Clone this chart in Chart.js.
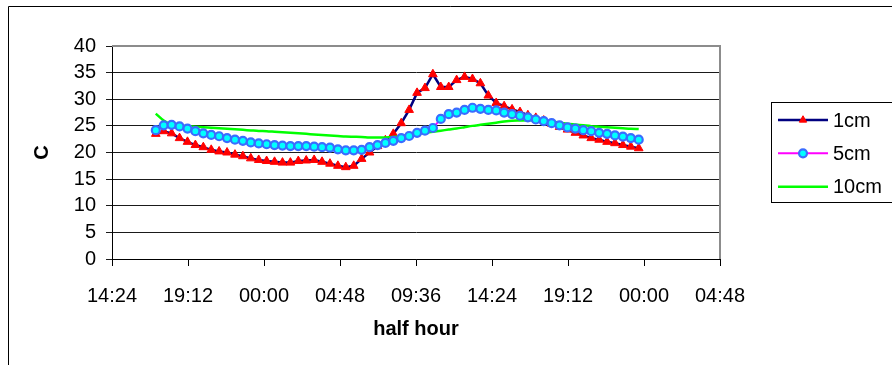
<!DOCTYPE html>
<html>
<head>
<meta charset="utf-8">
<script src="https://cdn.jsdelivr.net/npm/chart.js@4/dist/chart.umd.min.js"></script>
<style>
  html, body { margin: 0; padding: 0; background: #ffffff; }
  #wrap { width: 892px; height: 365px; position: relative; }
</style>
</head>
<body>
<div id="wrap"><canvas id="c" width="892" height="365"></canvas></div>
<script>
// Sample times, minutes after midnight of the first day (half-hourly readings)
const minutes = [1030,1060,1090,1120,1150,1180,1210,1240,1270,1300,1330,1360,1390,1420,1450,1480,
  1510,1540,1570,1600,1630,1660,1690,1720,1750,1780,1810,1840,1870,1900,1930,1960,1990,2020,2050,
  2080,2110,2140,2170,2200,2230,2260,2290,2320,2350,2380,2410,2440,2470,2500,2530,2560,2590,2620,
  2650,2680,2710,2740,2770,2800,2830,2860];

// Temperature (C) at 1 cm depth
const temp1cm = [23.5,24.0,23.6,22.7,22.0,21.4,21.0,20.5,20.2,20.0,19.6,19.3,18.9,18.6,18.4,18.25,
  18.1,18.1,18.4,18.5,18.6,18.25,17.9,17.5,17.25,17.5,18.8,20.0,21.2,22.3,23.5,25.5,28.0,31.2,32.1,
  34.7,32.3,32.3,33.6,34.2,33.8,33.0,30.7,29.3,28.7,28.1,27.6,27.0,26.5,26.0,25.4,24.8,24.3,23.7,
  23.2,22.7,22.4,22.0,21.75,21.4,21.1,20.8];

// Temperature (C) at 5 cm depth
const temp5cm = [24.2,25.1,25.2,24.9,24.5,24.0,23.6,23.3,23.05,22.7,22.4,22.2,21.9,21.7,21.55,21.4,
  21.3,21.2,21.2,21.2,21.1,21.0,20.9,20.6,20.4,20.4,20.5,21.0,21.4,21.8,22.2,22.7,23.1,23.7,24.1,
  24.6,26.3,27.2,27.5,28.0,28.4,28.2,28.0,27.9,27.5,27.2,26.9,26.6,26.2,25.9,25.5,25.1,24.7,24.5,
  24.2,24.0,23.7,23.5,23.2,23.0,22.7,22.4];

// Temperature (C) at 10 cm depth
const temp10cm = [27.3,26.0,25.2,25.05,24.95,24.85,24.75,24.65,24.55,24.45,24.35,24.25,24.15,24.05,
  24.0,23.9,23.8,23.7,23.6,23.5,23.4,23.3,23.2,23.1,23.0,22.95,22.9,22.8,22.8,22.8,22.9,23.1,23.3,
  23.5,23.7,23.9,24.1,24.3,24.5,24.75,25.0,25.2,25.4,25.6,25.8,25.95,26.0,26.05,26.05,25.95,25.8,
  25.6,25.4,25.25,25.1,24.95,24.85,24.75,24.65,24.55,24.45,24.4];

const seriesNames = ['1cm', '5cm', '10cm'];

// X axis tick positions (minutes) and their labels
const tickMinutes = [864, 1152, 1440, 1728, 2016, 2304, 2592, 2880, 3168];
const tickLabels = ['14:24', '19:12', '00:00', '04:48', '09:36', '14:24', '19:12', '00:00', '04:48'];

const FONT = '"Liberation Sans", Arial, sans-serif';

function pts(vals) {
  return vals.map((v, i) => ({ x: minutes[i], y: v }));
}

const ds1 = {
  label: seriesNames[0], data: pts(temp1cm),
  borderColor: '#000080', borderWidth: 2.5, tension: 0,
  pointStyle: 'triangle', pointRadius: 5, pointBackgroundColor: '#ff0000',
  pointBorderColor: '#ff0000', pointBorderWidth: 1, order: 3
};
const ds2 = {
  label: seriesNames[1], data: pts(temp5cm),
  borderColor: '#ff00ff', borderWidth: 2, tension: 0,
  pointStyle: 'circle', pointRadius: 4, pointBackgroundColor: '#00ffff',
  pointBorderColor: '#3a6cff', pointBorderWidth: 2.2, order: 1
};
const ds3 = {
  label: seriesNames[2], data: pts(temp10cm),
  borderColor: '#00ff00', borderWidth: 2.5, tension: 0.3,
  pointRadius: 0, order: 2
};

// Gray plot-area frame on top and right, outer chart frame, and legend box
const framePlugin = {
  id: 'frames',
  beforeDatasetsDraw(chart) {
    const { ctx, chartArea: a } = chart;
    ctx.save();
    ctx.strokeStyle = '#8c8c8c';
    ctx.lineWidth = 2;
    ctx.beginPath();
    ctx.moveTo(a.left, a.top);
    ctx.lineTo(a.right, a.top);
    ctx.lineTo(a.right, a.bottom);
    ctx.stroke();
    ctx.restore();
  },
  afterDraw(chart) {
    const { ctx } = chart;
    ctx.save();
    // outer chart border
    ctx.strokeStyle = '#000000';
    ctx.lineWidth = 1;
    ctx.beginPath();
    ctx.moveTo(8.5, 366);
    ctx.lineTo(8.5, 6.5);
    ctx.lineTo(893, 6.5);
    ctx.stroke();

    // legend
    ctx.fillStyle = '#ffffff';
    ctx.fillRect(771.5, 102.5, 130, 100);
    ctx.strokeRect(771.5, 102.5, 130, 100);
    const rows = [120, 153.3, 186.7];
    const sets = [ds1, ds2, ds3];
    sets.forEach((d, i) => {
      const y = rows[i];
      ctx.strokeStyle = d.borderColor;
      ctx.lineWidth = d.borderWidth;
      ctx.beginPath();
      ctx.moveTo(778, y);
      ctx.lineTo(828, y);
      ctx.stroke();
      if (d.pointRadius > 0) {
        ctx.fillStyle = d.pointBackgroundColor;
        ctx.strokeStyle = d.pointBorderColor;
        ctx.lineWidth = d.pointBorderWidth;
        ctx.beginPath();
        if (d.pointStyle === 'circle') {
          ctx.arc(803, y, d.pointRadius, 0, Math.PI * 2);
        } else {
          const r = d.pointRadius * 0.85;
          ctx.moveTo(803, y - r);
          ctx.lineTo(803 + r * Math.sin(2 * Math.PI / 3), y - r * Math.cos(2 * Math.PI / 3));
          ctx.lineTo(803 + r * Math.sin(4 * Math.PI / 3), y - r * Math.cos(4 * Math.PI / 3));
          ctx.closePath();
        }
        ctx.fill();
        ctx.stroke();
      }
      ctx.fillStyle = '#000000';
      ctx.font = '20px ' + FONT;
      ctx.textAlign = 'left';
      ctx.textBaseline = 'middle';
      ctx.fillText(d.label, 833, y + 1);
    });
    ctx.restore();
  }
};

new Chart(document.getElementById('c'), {
  type: 'line',
  data: { datasets: [ds1, ds2, ds3] },
  options: {
    responsive: false,
    animation: false,
    layout: { padding: { top: 46, right: 172, left: 0, bottom: 0 } },
    plugins: { legend: { display: false }, tooltip: { enabled: false } },
    scales: {
      x: {
        type: 'linear',
        min: tickMinutes[0], max: tickMinutes[tickMinutes.length - 1],
        afterBuildTicks(scale) { scale.ticks = tickMinutes.map(v => ({ value: v })); },
        afterFit(scale) { scale.height = 106; },
        ticks: {
          autoSkip: false, maxRotation: 0, padding: 18, color: '#000000',
          font: { family: FONT, size: 20 },
          callback(value, index) { return tickLabels[index]; }
        },
        grid: { drawOnChartArea: false, drawTicks: true, tickLength: 7, color: '#000000' },
        border: { display: true, color: '#000000', width: 1 },
        title: {
          display: true, text: 'half hour', color: '#000000',
          font: { family: FONT, size: 20, weight: 'bold' },
          padding: { top: 0, bottom: 24 }
        }
      },
      y: {
        min: 0, max: 40,
        afterFit(scale) { scale.width = 112; },
        ticks: {
          stepSize: 5, padding: 10, color: '#000000', autoSkip: false,
          font: { family: FONT, size: 20 }
        },
        grid: { color: '#1a1a1a', lineWidth: 1, drawTicks: true, tickLength: 6 },
        border: { display: true, color: '#000000', width: 1 },
        title: {
          display: true, text: 'C', color: '#000000',
          font: { family: FONT, size: 20, weight: 'bold' },
          padding: { top: 30, bottom: 0 }
        }
      }
    }
  },
  plugins: [framePlugin]
});
</script>
</body>
</html>
